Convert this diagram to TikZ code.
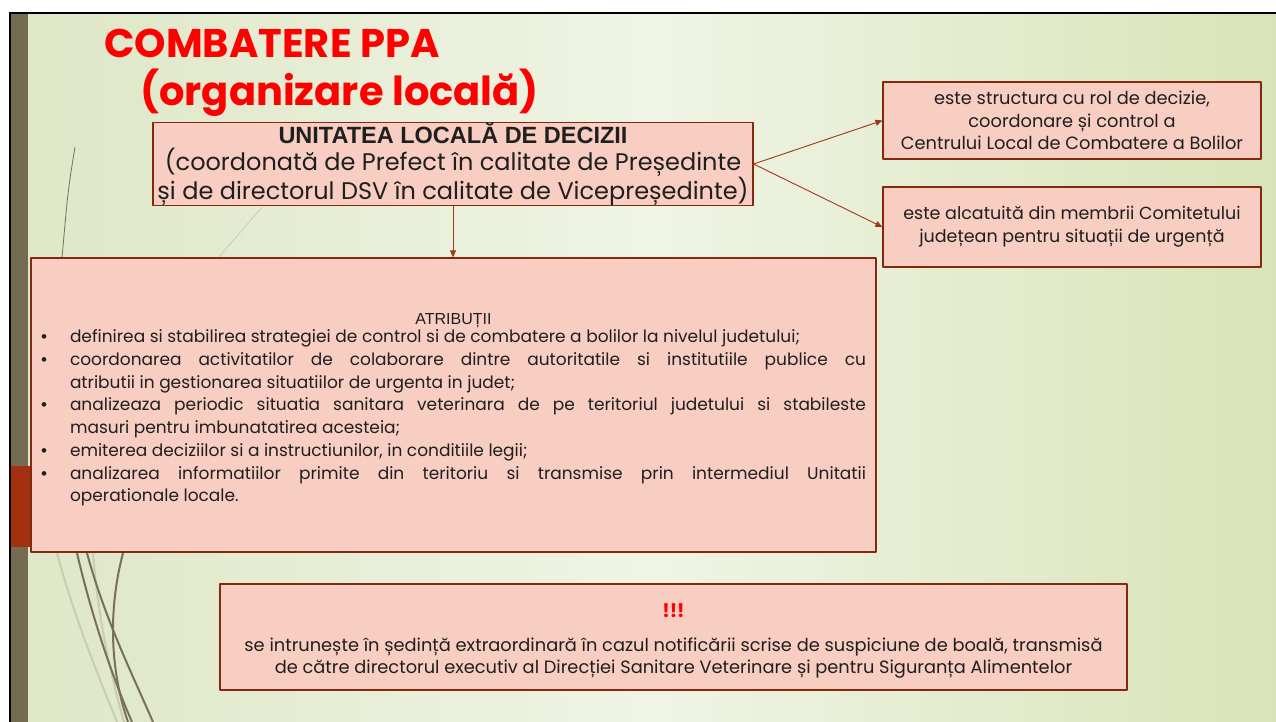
\documentclass[tikz,border=0pt]{standalone}
\usepackage{fontspec}
\setmainfont{Poppins}
\newfontfamily\arialfont{Liberation Sans}
\usetikzlibrary{arrows.meta}

% slide colours
\definecolor{slidebg}{RGB}{222,231,198}
\definecolor{slidelight}{RGB}{240,244,229}
\definecolor{slideright}{RGB}{216,228,184}
\definecolor{olivebar}{RGB}{115,107,82}
\definecolor{rustbar}{RGB}{163,48,15}
\definecolor{boxfill}{RGB}{248,205,194}
\definecolor{boxline}{RGB}{132,40,16}
\definecolor{arrowred}{RGB}{160,55,25}
\definecolor{titlered}{RGB}{255,0,0}
\definecolor{stalk}{RGB}{120,113,88}
\definecolor{stalklight}{RGB}{200,206,176}

\tikzset{
  pinkbox/.style={draw=boxline, fill=boxfill, line width=1.2pt, inner sep=0pt,
    align=center, text=black!88},
  link/.style={arrowred, line width=0.9pt, -{Triangle[length=7pt,width=6pt]}},
}

% bullet line with hanging indent
\newcommand{\atribitem}{\par\noindent\hangindent=29pt\hangafter=1%
  \makebox[29pt][l]{{\arialfont\textbullet}}}

\begin{document}
\begin{tikzpicture}[
  x=1pt, y=-1pt, % one unit = one pixel, y downwards
  line join=round
]
  \useasboundingbox (0,0) rectangle (1276,722);

  % ---- slide background ----
  \fill[white] (0,0) rectangle (1276,722);
  \shade[left color=slidebg, right color=slideright, middle color=slidelight]
    (28,13) rectangle (1276,722);
  \fill[olivebar] (11,13) rectangle (28,722);
  \fill[rustbar] (11,466) rectangle (30,547);
  \draw[black, line width=2.5pt] (9,13) -- (1276,13);
  \draw[black, line width=2.5pt] (10,12) -- (10,722);

  % ---- grass stalks behind the boxes ----
  \draw[stalk, line width=0.8pt] (75,147) .. controls (68,190) .. (62,258);
  \draw[stalklight, line width=0.8pt] (262,207) -- (218,258);
  \draw[stalklight, line width=2pt] (57,553) .. controls (75,620) and (100,680) .. (117,722);
  \draw[stalklight, line width=2pt] (93,553) .. controls (98,620) and (112,680) .. (124,722);
  \draw[stalk, line width=2pt] (77,553) .. controls (95,630) and (118,690) .. (132,722);
  \draw[stalk, line width=2pt] (87,553) .. controls (105,620) and (135,680) .. (153,722);
  \draw[stalk, line width=2pt] (123,553) .. controls (108,610) and (110,670) .. (128,722);

  % ---- title ----
  \node[anchor=base west, inner sep=0pt, text=titlered,
    font=\bfseries\fontsize{40}{42}\selectfont] (title) at (104,58) {COMBATERE PPA};
  \node[anchor=base west, inner sep=0pt, text=titlered,
    font=\bfseries\fontsize{40}{42}\selectfont] (subtitle) at (140,106) {(organizare locală)};

  % ---- boxes ----
  \node[pinkbox, minimum width=600, minimum height=82,
    font=\fontsize{24}{27}\selectfont] (unit) at (453,164)
    {{\arialfont\bfseries\fontsize{23.5}{24}\selectfont UNITATEA LOCALĂ DE DECIZII}\\
     (coordonată de Prefect în calitate de Președinte\\
     și de directorul DSV în calitate de Vicepreședinte)};

  \node[pinkbox, minimum width=378, minimum height=77,
    font=\fontsize{17.8}{22.5}\selectfont] (struct) at (1072,120.5)
    {este structura cu rol de decizie,\\ coordonare și control a\\
     Centrului Local de Combatere a Bolilor};

  \node[pinkbox, minimum width=378, minimum height=80,
    font=\fontsize{17.5}{23}\selectfont] (compo) at (1072,227)
    {este alcatuită din membrii Comitetului\\ județean pentru situații de urgență};

  \node[pinkbox, minimum width=845, minimum height=294, inner xsep=10pt,
    text width=825pt, align=justify,
    font=\fontsize{17}{22.7}\selectfont] (atrib) at (453.5,405)
    {\centerline{\rule{0pt}{21pt}\arialfont\fontsize{16}{20}\selectfont ATRIBUȚII}\vskip-4.6pt
     \atribitem definirea si stabilirea strategiei de control si de combatere a bolilor la nivelul judetului;
     \atribitem coordonarea activitatilor de colaborare dintre autoritatile si institutiile publice cu\linebreak
       atributii in gestionarea situatiilor de urgenta in judet;
     \atribitem analizeaza periodic situatia sanitara veterinara de pe teritoriul judetului si stabileste\linebreak
       masuri pentru imbunatatirea acesteia;
     \atribitem emiterea deciziilor si a instructiunilor, in conditiile legii;
     \atribitem analizarea informatiilor primite din teritoriu si transmise prin intermediul Unitatii\linebreak
       operationale locale.\par};

  \node[pinkbox, minimum width=907, minimum height=106,
    font=\fontsize{17.8}{22}\selectfont] (alert) at (673.5,637)
    {\rule{0pt}{22pt}{\color{titlered}\bfseries\fontsize{19}{20}\selectfont !!!}\\[12pt]
     se intrunește în ședință extraordinară în cazul notificării scrise de suspiciune de boală, transmisă\\
     de către directorul executiv al Direcției Sanitare Veterinare și pentru Siguranța Alimentelor};

  % ---- connectors ----
  \draw[link] (unit.east) -- (struct.west);
  \draw[link] (unit.east) -- (compo.west);
  \draw[link] (unit.south) -- (unit.south |- atrib.north);

\end{tikzpicture}
\end{document}
